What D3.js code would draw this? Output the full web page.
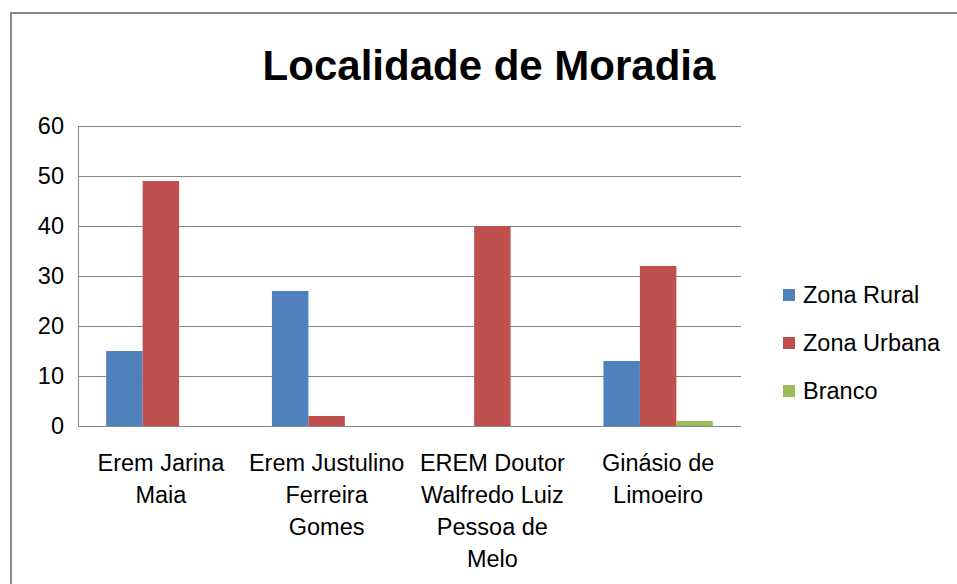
<!DOCTYPE html>
<html><head><meta charset="utf-8">
<script src="https://cdn.jsdelivr.net/npm/d3@7"></script>
<style>body{margin:0;background:#fff}svg{display:block}text{font-family:"Liberation Sans",Arial,sans-serif}</style>
</head><body><svg id="c" width="957" height="584"></svg>
<script>
const categories = [
  ["Erem Jarina", "Maia"],
  ["Erem Justulino", "Ferreira", "Gomes"],
  ["EREM Doutor", "Walfredo Luiz", "Pessoa de", "Melo"],
  ["Ginásio de", "Limoeiro"]
];
const seriesNames = ["Zona Rural", "Zona Urbana", "Branco"];
const zonaRural = [15, 27, 0, 13];
const zonaUrbana = [49, 2, 40, 32];
const branco = [0, 0, 0, 1];
const yTicks = [0, 10, 20, 30, 40, 50, 60];
const colors = ["#4F81BD", "#C0504D", "#9BBB59"];
const title = "Localidade de Moradia";

const svg = d3.select("#c");
// outer chart border
svg.append("rect").attr("x", 11).attr("y", 13).attr("width", 960).attr("height", 600)
  .attr("fill", "#fff").attr("stroke", "#878787").attr("stroke-width", 2);

const L = 78, R = 741, T = 126, B = 426;
const catIdx = categories.map((d, i) => i);
const x0 = d3.scaleBand().domain(catIdx).range([L, R]).paddingInner(0.34).paddingOuter(0.17);
const x1 = d3.scaleBand().domain(d3.range(seriesNames.length)).range([0, x0.bandwidth()]);
const y = d3.scaleLinear().domain([0, 60]).range([B, T]);

// gridlines
svg.append("g").selectAll("line").data(yTicks).join("line")
  .attr("x1", L).attr("x2", R).attr("y1", d => Math.round(y(d)) + 0.5).attr("y2", d => Math.round(y(d)) + 0.5)
  .attr("stroke", "#888").attr("stroke-width", 1);
// left axis line
svg.append("line").attr("x1", L + 0.5).attr("x2", L + 0.5).attr("y1", T).attr("y2", B).attr("stroke", "#888");

// y axis labels
const yAxis = d3.axisLeft(y).tickValues(yTicks).tickSize(0).tickPadding(14);
const gy = svg.append("g").attr("transform", `translate(${L},0)`).call(yAxis);
gy.select(".domain").remove();
gy.selectAll("text").attr("font-size", 23.5).attr("fill", "#000").attr("font-family", '"Liberation Sans",Arial,sans-serif');

// bars
const seriesData = [zonaRural, zonaUrbana, branco];
const g = svg.append("g");
seriesData.forEach((vals, s) => {
  g.selectAll(".s" + s).data(vals).join("rect")
    .attr("x", (d, i) => x0(i) + x1(s))
    .attr("y", d => y(d))
    .attr("width", x1.bandwidth())
    .attr("height", d => y(0) - y(d))
    .attr("fill", colors[s]);
});

// x labels
const gx = svg.append("g");
categories.forEach((lines, i) => {
  const t = gx.append("text").attr("text-anchor", "middle").attr("font-size", 23.5).attr("fill", "#000")
    .attr("x", x0(i) + x0.bandwidth() / 2).attr("y", 471);
  lines.forEach((ln, k) => t.append("tspan").attr("x", x0(i) + x0.bandwidth() / 2).attr("dy", k === 0 ? 0 : 32).text(ln));
});

// title
svg.append("text").attr("x", 489).attr("y", 80).attr("text-anchor", "middle")
  .attr("font-size", 42).attr("font-weight", "bold").attr("fill", "#000").text(title);

// legend
const lg = svg.append("g");
seriesNames.forEach((n, i) => {
  const yy = 295 + i * 48;
  lg.append("rect").attr("x", 783).attr("y", yy - 6).attr("width", 12).attr("height", 12).attr("fill", colors[i]);
  lg.append("text").attr("x", 803).attr("y", yy + 8).attr("font-size", 23.5).attr("fill", "#000").text(n);
});
</script></body></html>
